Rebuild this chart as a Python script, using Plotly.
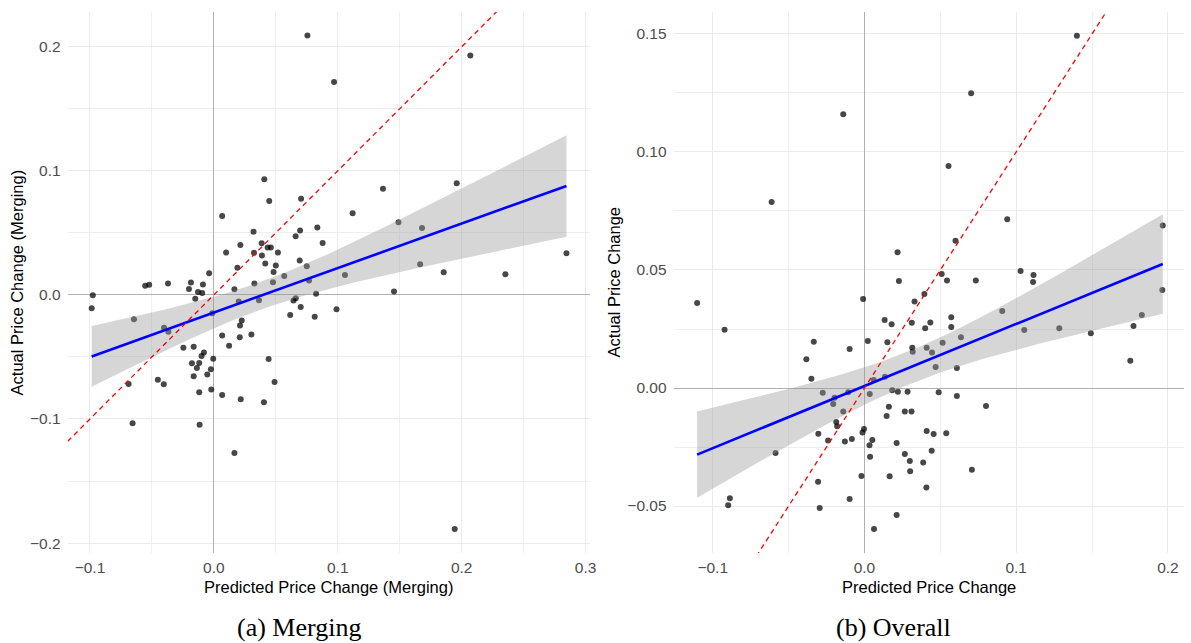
import numpy as np
import plotly.graph_objects as go

# ---- data: (predicted, actual) price changes ----
merging_pred = [0.0755, 0.097, 0.207, 0.0407, 0.0447, 0.0704, 0.0067, 0.032, 0.0696, 0.066,
                0.0835, 0.0878, 0.0214, 0.0386, 0.0434, 0.046, 0.0517, 0.0099, 0.0324, 0.0388,
                0.0415, 0.05, 0.0482, 0.0568, 0.0693, 0.075, 0.0768, 0.0477, 0.0327, 0.019,
                -0.0038, 0.0166, 0.0825, -0.0554, -0.0522, -0.037, -0.0185, -0.0201, -0.0088, -0.0128,
                -0.0094, -0.0977, -0.015, 0.1365, 0.196, 0.112, 0.149, 0.168, 0.1058, 0.1665,
                0.1855, 0.2353, 0.2846, 0.1454, 0.0643, 0.0661, 0.0616, 0.0701, 0.0814, 0.099,
                0.1944, -0.0986, -0.0645, -0.0402, -0.0367, -0.0246, -0.0163, -0.008, -0.0099, -0.0005,
                -0.0177, -0.0118, -0.0137, -0.0024, -0.0163, -0.0053, -0.0452, -0.0404, -0.0688, -0.0118,
                -0.0021, -0.0656, -0.0115, 0.0166, -0.0013, 0.0067, 0.0123, 0.0209, 0.0211, 0.0225,
                0.0303, 0.0201, 0.0364, 0.0442, 0.049, 0.0067, 0.0217, 0.0404]
merging_actual = [0.209, 0.1715, 0.193, 0.0933, 0.0756, 0.0774, 0.0635, 0.051, 0.052, 0.0473,
                  0.0543, 0.0419, 0.0403, 0.0417, 0.0382, 0.0382, 0.0341, 0.0341, 0.0339, 0.0317,
                  0.0253, 0.0237, 0.0185, 0.0153, 0.0277, 0.0231, 0.0116, 0.0102, 0.0091, 0.0218,
                  0.0175, 0.0046, 0.001, 0.0073, 0.0081, 0.0091, 0.0099, 0.0048, 0.0083, 0.0024,
                  0.0016, -0.0003, -0.003, 0.0855, 0.09, 0.0659, 0.0586, 0.054, 0.0161, 0.0247,
                  0.0183, 0.0167, 0.0336, 0.0027, -0.0046, -0.0027, -0.0161, -0.0097, -0.0177, -0.0115,
                  -0.1887, -0.0107, -0.0196, -0.0264, -0.0296, -0.0425, -0.0417, -0.0465, -0.0492, -0.0514,
                  -0.0551, -0.0548, -0.0589, -0.06, -0.0656, -0.0642, -0.0683, -0.0721, -0.0718, -0.0785,
                  -0.0763, -0.1035, -0.1046, -0.1274, -0.0148, -0.0328, -0.0409, -0.0341, -0.0247, -0.0207,
                  -0.032, -0.0054, -0.0043, -0.0516, -0.0702, -0.0806, -0.0841, -0.0866]

overall_pred = [-0.014, -0.0612, 0.0218, 0.0227, -0.0009, 0.14, 0.0703, 0.0554, 0.0941, 0.1966,
                0.06, 0.0509, 0.0544, 0.0734, 0.1029, 0.1114, 0.1111, 0.1963, 0.0395, 0.1828,
                0.1773, 0.1752, 0.1492, 0.1284, 0.1053, 0.0908, 0.0636, 0.0572, 0.0572, 0.0515,
                0.0609, 0.0469, 0.0445, 0.041, 0.0434, 0.04, 0.0312, 0.033, 0.0315, 0.0318,
                0.022, 0.0284, 0.0489, 0.0609, 0.0801, 0.0266, 0.031, 0.041, 0.0456, 0.0539,
                0.0212, 0.0266, 0.0299, 0.0301, 0.0387, 0.0443, 0.0408, 0.0708, 0.0212, 0.0133,
                0.0179, -0.0334, 0.0022, 0.0151, -0.0098, -0.0383, -0.035, 0.0135, 0.0061, -0.0275,
                -0.0107, -0.0197, -0.0206, -0.014, 0.0035, 0.0183, 0.0161, 0.0146, -0.0186, -0.018,
                -0.0304, -0.024, -0.0129, -0.0083, -0.0003, -0.0013, 0.0052, 0.0033, 0.0037, 0.0166,
                -0.002, -0.0306, -0.0098, -0.0295, 0.0063, -0.1103, -0.0922, -0.0586, -0.0898, -0.0887]
overall_actual = [0.116, 0.0788, 0.0575, 0.0453, 0.0377, 0.1492, 0.1249, 0.0941, 0.0715, 0.0689,
                  0.0624, 0.0483, 0.0455, 0.0455, 0.0496, 0.0479, 0.0449, 0.0415, 0.0398, 0.0309,
                  0.0263, 0.0116, 0.0232, 0.0253, 0.0246, 0.0326, 0.0215, 0.03, 0.0258, 0.0192,
                  0.0085, 0.0089, 0.015, 0.0171, 0.0278, 0.0253, 0.0277, 0.0366, 0.0171, 0.0154,
                  -0.0016, -0.0016, -0.0018, -0.0034, -0.0076, -0.0099, -0.0099, -0.0182, -0.0195, -0.0192,
                  -0.0233, -0.028, -0.0309, -0.0353, -0.0316, -0.0266, -0.0422, -0.0346, -0.0538, 0.0288,
                  0.027, 0.0196, 0.0199, 0.0194, 0.0165, 0.0122, 0.0039, 0.0048, 0.0034, -0.002,
                  -0.0018, -0.0041, -0.0068, -0.0099, -0.0025, -0.001, -0.0079, -0.0119, -0.0144, -0.0162,
                  -0.0194, -0.0222, -0.0227, -0.0216, -0.0174, -0.0189, -0.022, -0.0242, -0.0291, -0.0374,
                  -0.0373, -0.0397, -0.047, -0.0508, -0.0597, 0.036, 0.0247, -0.0275, -0.0497, -0.0467]

# axis settings per panel
merging_xrange = [-0.118, 0.3036]
merging_yrange = [-0.208, 0.228]
overall_xrange = [-0.1258, 0.2106]
overall_yrange = [-0.0699, 0.1593]

# 45-degree reference line
ref_slope, ref_intercept = 1.0, 0.0
T_975 = 1.984  # Student t quantile, 95% band

FONT = "Liberation Sans, Arial, Helvetica, sans-serif"
SERIF = "Liberation Serif, Times New Roman, serif"


def ols_band(x, y, n_grid=80):
    x = np.asarray(x, float)
    y = np.asarray(y, float)
    n = len(x)
    b1, b0 = np.polyfit(x, y, 1)
    resid = y - (b0 + b1 * x)
    s = np.sqrt(np.sum(resid ** 2) / (n - 2))
    xm = x.mean()
    sxx = np.sum((x - xm) ** 2)
    g = np.linspace(x.min(), x.max(), n_grid)
    fit = b0 + b1 * g
    se = s * np.sqrt(1.0 / n + (g - xm) ** 2 / sxx)
    return g, fit, fit - T_975 * se, fit + T_975 * se


fig = go.Figure()


def add_panel(x, y, xr, xa, ya):
    fig.add_trace(go.Scatter(
        x=x, y=y, mode="markers", xaxis=xa, yaxis=ya,
        marker=dict(size=6, color="rgba(0,0,0,0.72)", line=dict(width=0)),
        showlegend=False, hoverinfo="skip"))
    g, fit, lo, hi = ols_band(x, y)
    fig.add_trace(go.Scatter(
        x=np.concatenate([g, g[::-1]]), y=np.concatenate([hi, lo[::-1]]),
        xaxis=xa, yaxis=ya, mode="lines", fill="toself",
        fillcolor="rgba(153,153,153,0.4)", line=dict(width=0),
        showlegend=False, hoverinfo="skip"))
    fig.add_trace(go.Scatter(
        x=g, y=fit, xaxis=xa, yaxis=ya, mode="lines",
        line=dict(color="#0000FF", width=2.6),
        showlegend=False, hoverinfo="skip"))
    rx = np.array(xr)
    fig.add_trace(go.Scatter(
        x=rx, y=ref_intercept + ref_slope * rx, xaxis=xa, yaxis=ya, mode="lines",
        line=dict(color="#FF0000", width=1.3, dash="5px,4px"),
        showlegend=False, hoverinfo="skip"))


add_panel(merging_pred, merging_actual, merging_xrange, "x", "y")
add_panel(overall_pred, overall_actual, overall_xrange, "x2", "y2")

W, H = 1191, 643
left_dom = [68 / W, 593 / W]
right_dom = [677 / W, 1190 / W]
y_dom = [1 - 553 / H, 1 - 12 / H]

axis_common = dict(
    showgrid=True, gridcolor="#EBEBEB", gridwidth=1.1,
    zeroline=True, zerolinecolor="#B0B0B0", zerolinewidth=1.2,
    showline=False, ticks="", tickfont=dict(family=FONT, size=15.5, color="#4D4D4D"),
)


def minor(step):
    return dict(showgrid=True, gridcolor="#EFEFEF", gridwidth=0.8, dtick=step, tick0=0)


fig.update_layout(
    width=W, height=H, margin=dict(l=0, r=0, t=0, b=0),
    paper_bgcolor="white", plot_bgcolor="white",
    xaxis=dict(domain=left_dom, range=merging_xrange, dtick=0.1, tick0=0,
               tickformat=".1f", anchor="y", ticklabelstandoff=3, minor=minor(0.05), **axis_common),
    yaxis=dict(domain=y_dom, range=merging_yrange, dtick=0.1, tick0=0,
               tickformat=".1f", anchor="x", ticklabelstandoff=6, minor=minor(0.05), **axis_common),
    xaxis2=dict(domain=right_dom, range=overall_xrange, dtick=0.1, tick0=0,
                tickformat=".1f", anchor="y2", ticklabelstandoff=3, minor=minor(0.05), **axis_common),
    yaxis2=dict(domain=y_dom, range=overall_yrange, dtick=0.05, tick0=0,
                tickformat=".2f", anchor="x2", ticklabelstandoff=6, minor=minor(0.025), **axis_common),
)

title_font = dict(family=FONT, size=16.5, color="#000000")
annotations = [
    dict(text="Predicted Price Change (Merging)", x=sum(left_dom) / 2, y=1 - 587 / H),
    dict(text="Predicted Price Change", x=sum(right_dom) / 2, y=1 - 587 / H),
    dict(text="Actual Price Change (Merging)", x=17 / W, y=sum(y_dom) / 2, textangle=-90),
    dict(text="Actual Price Change", x=617 / W, y=sum(y_dom) / 2, textangle=-90),
]
for a in annotations:
    fig.add_annotation(xref="paper", yref="paper", showarrow=False,
                       xanchor="center", yanchor="middle", font=title_font, **a)

caption_font = dict(family=SERIF, size=26, color="#000000")
for text, xc in [("(a) Merging", 301), ("(b) Overall", 898)]:
    fig.add_annotation(text=text, x=xc / W, y=1 - 627 / H, xref="paper", yref="paper",
                       showarrow=False, xanchor="center", yanchor="middle", font=caption_font)

fig.write_html("out.html")
